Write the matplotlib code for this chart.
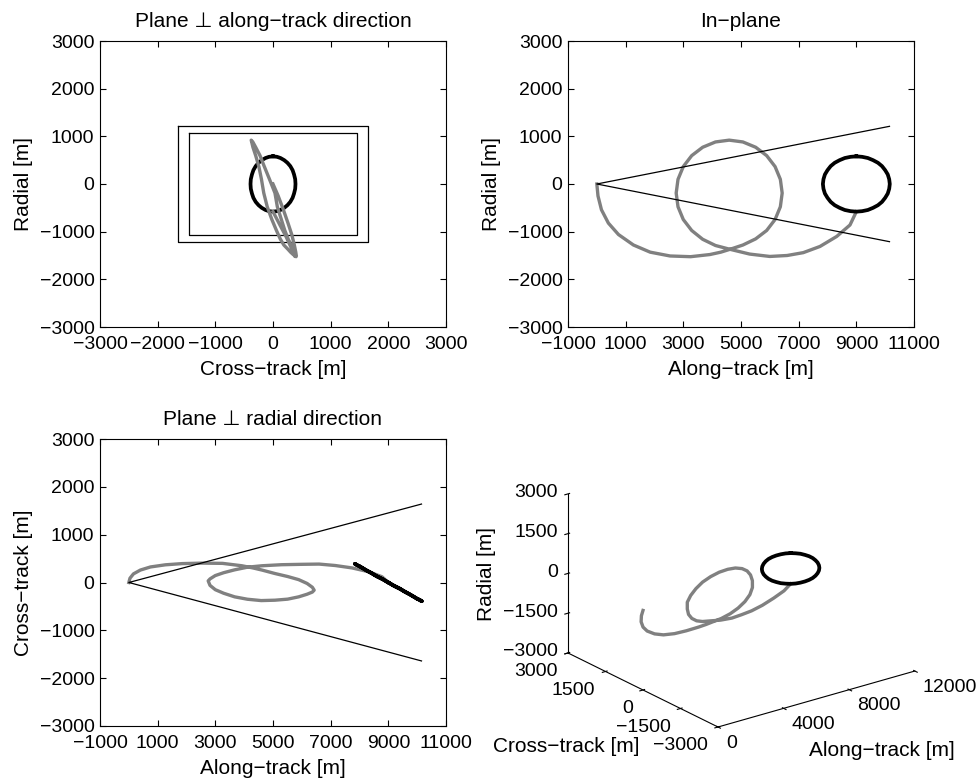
import numpy as np
import matplotlib
matplotlib.use("Agg")
import matplotlib.pyplot as plt
from mpl_toolkits.mplot3d import proj3d

plt.rcParams['font.family'] = ['Liberation Sans', 'DejaVu Sans']
plt.rcParams['font.size'] = 14
plt.rcParams['axes.linewidth'] = 0.8

# chaser trajectory (grey), read from the three projections
grey_along = [0, 40, 160, 400, 750, 1270, 1850, 2540, 3250, 3920, 4300, 4618,
              5066, 5509, 5890, 6182, 6365, 6428, 6365, 6182, 5890, 5509, 5066,
              4590, 4114, 3671, 3290, 2998, 2815, 2752, 2815, 2998, 3290, 3671,
              4114, 4618, 5300, 6000, 6600, 7160, 7740, 8320, 8780, 9000]
grey_cross = [0, 90, 180, 260, 325, 370, 395, 405, 400, 350, 305, 260,
              188, 125, 60, -20, -100, -160, -200, -245, -300, -348, -370,
              -378, -350, -300, -225, -150, -60, 34, 75, 145, 205, 265,
              320, 350, 372, 380, 385, 355, 305, 225, 120, 0]
grey_radial = [0, -250, -540, -820, -1060, -1280, -1430, -1510, -1525, -1480, -1430, -1370,
               -1280, -1151, -975, -745, -477, -190, 97, 365, 595, 771, 882,
               920, 882, 771, 595, 365, 97, -190, -477, -745, -975, -1160,
               -1290, -1370, -1470, -1520, -1500, -1440, -1310, -1100, -860, -580]

# target relative orbit (black)
target_along = [9000, 9200, 9400, 9580, 9750, 9890, 10000, 10090, 10140, 10160,
                10140, 10090, 10000, 9890, 9750, 9580, 9400, 9200, 9000,
                8800, 8600, 8420, 8250, 8110, 8000, 7910, 7860, 7840,
                7860, 7910, 8000, 8110, 8250, 8420, 8600, 8800, 9000]
target_cross = [0, -70, -130, -195, -250, -300, -340, -365, -385, -390,
                -385, -365, -340, -300, -250, -195, -130, -70, 0,
                70, 130, 195, 250, 300, 340, 365, 385, 390,
                385, 365, 340, 300, 250, 195, 130, 70, 0]
target_radial = [580, 570, 545, 500, 445, 375, 290, 200, 100, 0,
                 -100, -200, -290, -375, -445, -500, -545, -570, -580,
                 -570, -545, -500, -445, -375, -290, -200, -100, 0,
                 100, 200, 290, 375, 445, 500, 545, 570, 580]

# approach cone
cone_along = [10150, 0, 10150]
cone_radial = [1210, 0, -1210]
cone_cross = [1640, 0, -1640]

# cone cross-sections seen along-track (outer: cone end, inner: at target)
outer_cross = [-1640, 1640, 1640, -1640, -1640]
outer_radial = [1210, 1210, -1210, -1210, 1210]
inner_cross = [-1460, 1460, 1460, -1460, -1460]
inner_radial = [1075, 1075, -1075, -1075, 1075]

ticks_pm3000 = [-3000, -2000, -1000, 0, 1000, 2000, 3000]
ticks_along = [-1000, 1000, 3000, 5000, 7000, 9000, 11000]
ticks3d_along = [0, 4000, 8000, 12000]
ticks3d_cr = [-3000, -1500, 0, 1500, 3000]

W, H = 979, 781
fig = plt.figure(figsize=(W / 100, H / 100), dpi=100)

grey = '0.5'
lw_grey = 2.4
lw_target = 2.7
lw_thin = 0.9
lab_fs = 15


def style(ax):
    ax.tick_params(direction='in', top=True, right=True, length=4, width=0.8, labelsize=14)
    ax.tick_params(axis='x', pad=6.5)
    ax.tick_params(axis='y', pad=4)


def px_axes(left, top, right, bottom):
    return fig.add_axes([left / W, 1 - bottom / H, (right - left) / W, (bottom - top) / H])


def fmt(v):
    return str(v).replace('-', '−')


# top left: plane perpendicular to along-track
ax1 = px_axes(100, 41, 446, 327)
ax1.plot(outer_cross, outer_radial, color='k', lw=lw_thin)
ax1.plot(inner_cross, inner_radial, color='k', lw=lw_thin)
ax1.plot(target_cross, target_radial, color='k', lw=lw_target)
ax1.plot(grey_cross, grey_radial, color=grey, lw=lw_grey, solid_joinstyle='round')
ax1.set_xlim(-3000, 3000)
ax1.set_ylim(-3000, 3000)
ax1.set_xticks(ticks_pm3000)
ax1.set_yticks(ticks_pm3000)
ax1.set_xlabel('Cross−track [m]', labelpad=5, fontsize=lab_fs)
ax1.set_ylabel('Radial [m]', labelpad=5, fontsize=lab_fs)
ax1.set_title('Plane ⊥ along−track direction', pad=10, fontsize=lab_fs)
style(ax1)

# top right: in-plane
ax2 = px_axes(568, 41, 914, 327)
ax2.plot(grey_along, grey_radial, color=grey, lw=lw_grey, solid_joinstyle='round')
ax2.plot(target_along, target_radial, color='k', lw=lw_target)
ax2.plot(cone_along, cone_radial, color='k', lw=lw_thin)
ax2.set_xlim(-1000, 11000)
ax2.set_ylim(-3000, 3000)
ax2.set_xticks(ticks_along)
ax2.set_yticks(ticks_pm3000)
ax2.set_xlabel('Along−track [m]', labelpad=5, fontsize=lab_fs)
ax2.set_ylabel('Radial [m]', labelpad=5, fontsize=lab_fs)
ax2.set_title('In−plane', pad=10, fontsize=lab_fs)
style(ax2)

# bottom left: plane perpendicular to radial
ax3 = px_axes(100, 439, 446, 726)
ax3.plot(grey_along, grey_cross, color=grey, lw=lw_grey, solid_joinstyle='round')
ax3.plot(target_along, target_cross, color='k', lw=lw_target)
ax3.plot(cone_along, cone_cross, color='k', lw=lw_thin)
ax3.set_xlim(-1000, 11000)
ax3.set_ylim(-3000, 3000)
ax3.set_xticks(ticks_along)
ax3.set_yticks(ticks_pm3000)
ax3.set_xlabel('Along−track [m]', labelpad=5, fontsize=lab_fs)
ax3.set_ylabel('Cross−track [m]', labelpad=5, fontsize=lab_fs)
ax3.set_title('Plane ⊥ radial direction', pad=10, fontsize=lab_fs)
style(ax3)

# bottom right: 3D view
ax4 = fig.add_axes([0.5, 0.0, 0.45, 0.45 * W / H], projection='3d')
ax4.set_proj_type('ortho')
ax4.view_init(elev=22, azim=-127.2)
ax4.set_box_aspect((247, 248, 171.5))
ax4.plot(grey_along, grey_cross, grey_radial, color=grey, lw=lw_grey, solid_joinstyle='round')
ax4.plot(target_along, target_cross, target_radial, color='k', lw=lw_target)
ax4.set_xlim(0, 12000)
ax4.set_ylim(-3000, 3000)
ax4.set_zlim(-3000, 3000)
ax4.set_xticks(ticks3d_along)
ax4.set_yticks(ticks3d_cr)
ax4.set_zticks(ticks3d_cr)
ax4.set_xticklabels([])
ax4.set_yticklabels([])
ax4.set_zticklabels([])
ax4.grid(False)
ax4.set_facecolor('none')
for axis in (ax4.xaxis, ax4.yaxis, ax4.zaxis):
    axis.set_pane_color((1, 1, 1, 0))
    axis.pane.set_edgecolor((1, 1, 1, 0))
    axis.line.set_linewidth(0.8)

# place the projected box where the reference has it
fig.canvas.draw()
M = ax4.get_proj()


def to_px(x, y, z):
    xs, ys, _ = proj3d.proj_transform(x, y, z, M)
    return ax4.transData.transform((xs, ys))


bb = ax4.get_position()
x0, y0, s = bb.x0 * W, bb.y0 * H, bb.width * W
u_front = (to_px(0, -3000, -3000) - (x0, y0)) / s
u_right = (to_px(12000, -3000, -3000) - (x0, y0)) / s
u_left = (to_px(0, 3000, -3000) - (x0, y0)) / s
u_top = (to_px(0, 3000, 3000) - (x0, y0)) / s
s_new = 0.5 * ((915 - 568) / (u_right[0] - u_left[0]) + (727 - 494) / (u_top[1] - u_front[1]))
nx0 = 718 - s_new * u_front[0]
ny0 = (H - 727) - s_new * u_front[1]
ax4.set_position([nx0 / W, ny0 / H, s_new / W, s_new / H])
fig.canvas.draw()
M = ax4.get_proj()


def put(px, dx, dy, s, **kw):
    # px in display coords (origin bottom-left); dx, dy in pixels, dy downward
    fig.text((px[0] + dx) / W, (px[1] - dy) / H, s, fontsize=14, **kw)


for v in ticks3d_along:
    put(to_px(v, -3000, -3000), 8, 16, fmt(v), ha='left', va='center')
for v in ticks3d_cr:
    put(to_px(0, v, -3000), -10, 19, fmt(v), ha='right', va='center')
for v in ticks3d_cr:
    put(to_px(0, 3000, v), -10, -1, fmt(v), ha='right', va='center')

front = to_px(0, -3000, -3000)
corner = to_px(0, 3000, -3000)
fig.text((front[0] - 152) / W, (front[1] - 19) / H, 'Cross−track [m]',
         fontsize=lab_fs, ha='center', va='center')
fig.text((front[0] + 164) / W, (front[1] - 23) / H, 'Along−track [m]',
         fontsize=lab_fs, ha='center', va='center')
fig.text((corner[0] - 81) / W, (corner[1] + 79) / H, 'Radial [m]',
         fontsize=lab_fs, ha='center', va='center', rotation=90)

fig.savefig('out.png', dpi=100)
